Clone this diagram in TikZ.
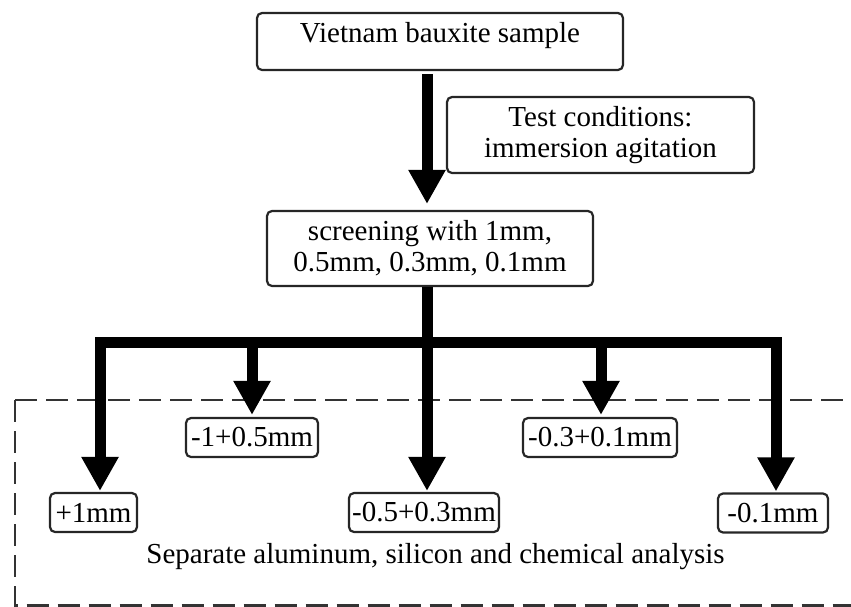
\documentclass[tikz,border=0pt]{standalone}
\usepackage{fontspec}
\setmainfont{Liberation Serif}
\usetikzlibrary{arrows.meta, calc, positioning}

\begin{document}
\begin{tikzpicture}[>={Triangle[length=17pt, width=17.5pt]}, x=0.5pt, y=-0.5pt, font=\fontsize{14.5}{15.5}\selectfont]
	\tikzstyle{format} = [draw=black!85, line width=1.1pt, rounded corners=2.5pt, inner sep=0pt, align=center]
	\tikzstyle{fraction} = [format, minimum height=19.5pt]
	\tikzstyle{flow} = [->, line width=5.5pt]
	\tikzstyle{frame} = [black!80, line width=1.2pt, dash pattern=on 11pt off 4.5pt]

	\useasboundingbox (0,0) rectangle (851,606);

	% dashed frame
	\draw[frame] (15,400) -- (880,400);
	\draw[frame] (15,400) -- (15,605.5) -- (880,605.5);

	\path
		node[format, minimum width=183pt, text height=14.5pt, text depth=14pt] (1) at (440,41.5) {Vietnam bauxite sample}
		node[format, minimum width=153.5pt, minimum height=38pt] (2) at (600.5,135) {Test conditions:\\immersion agitation}
		node[format, minimum width=163pt, minimum height=37.5pt] (3) at (430,248.5) {screening with 1mm,\\0.5mm, 0.3mm, 0.1mm}

		node[fraction, minimum width=43.5pt] (4) at (93.5,512.5) {+1mm}
		node[fraction, minimum width=66pt] (5) at (252,437.5) {-1+0.5mm}
		node[fraction, minimum width=75pt] (6) at (424,512.5) {-0.5+0.3mm}
		node[fraction, minimum width=77pt] (7) at (600,437.5) {-0.3+0.1mm}
		node[fraction, minimum width=55pt] (8) at (773,513) {-0.1mm}

		node (9) at (435.5,556.6) {Separate aluminum, silicon and chemical analysis}
	;
	\coordinate (hub) at (427,342);

	\draw[flow] ([xshift=-6.5pt, yshift=-1.5pt]1.south) -- ([xshift=-1.5pt, yshift=3pt]3.north);
	\draw[flow] ([xshift=-1.5pt]3.south) -- ([xshift=1.5pt, yshift=0.5pt]6.north);
	\draw[flow, <->] ([xshift=3.25pt, yshift=0.5pt]4.north) |- (hub) -| ([xshift=1.5pt, yshift=0.5pt]8.north);
	\draw[flow] (5.north |- hub) -- ([yshift=1pt]5.north);
	\draw[flow] ([xshift=0.5pt]7.north |- hub) -- ([xshift=0.5pt, yshift=1pt]7.north);
\end{tikzpicture}
\end{document}
